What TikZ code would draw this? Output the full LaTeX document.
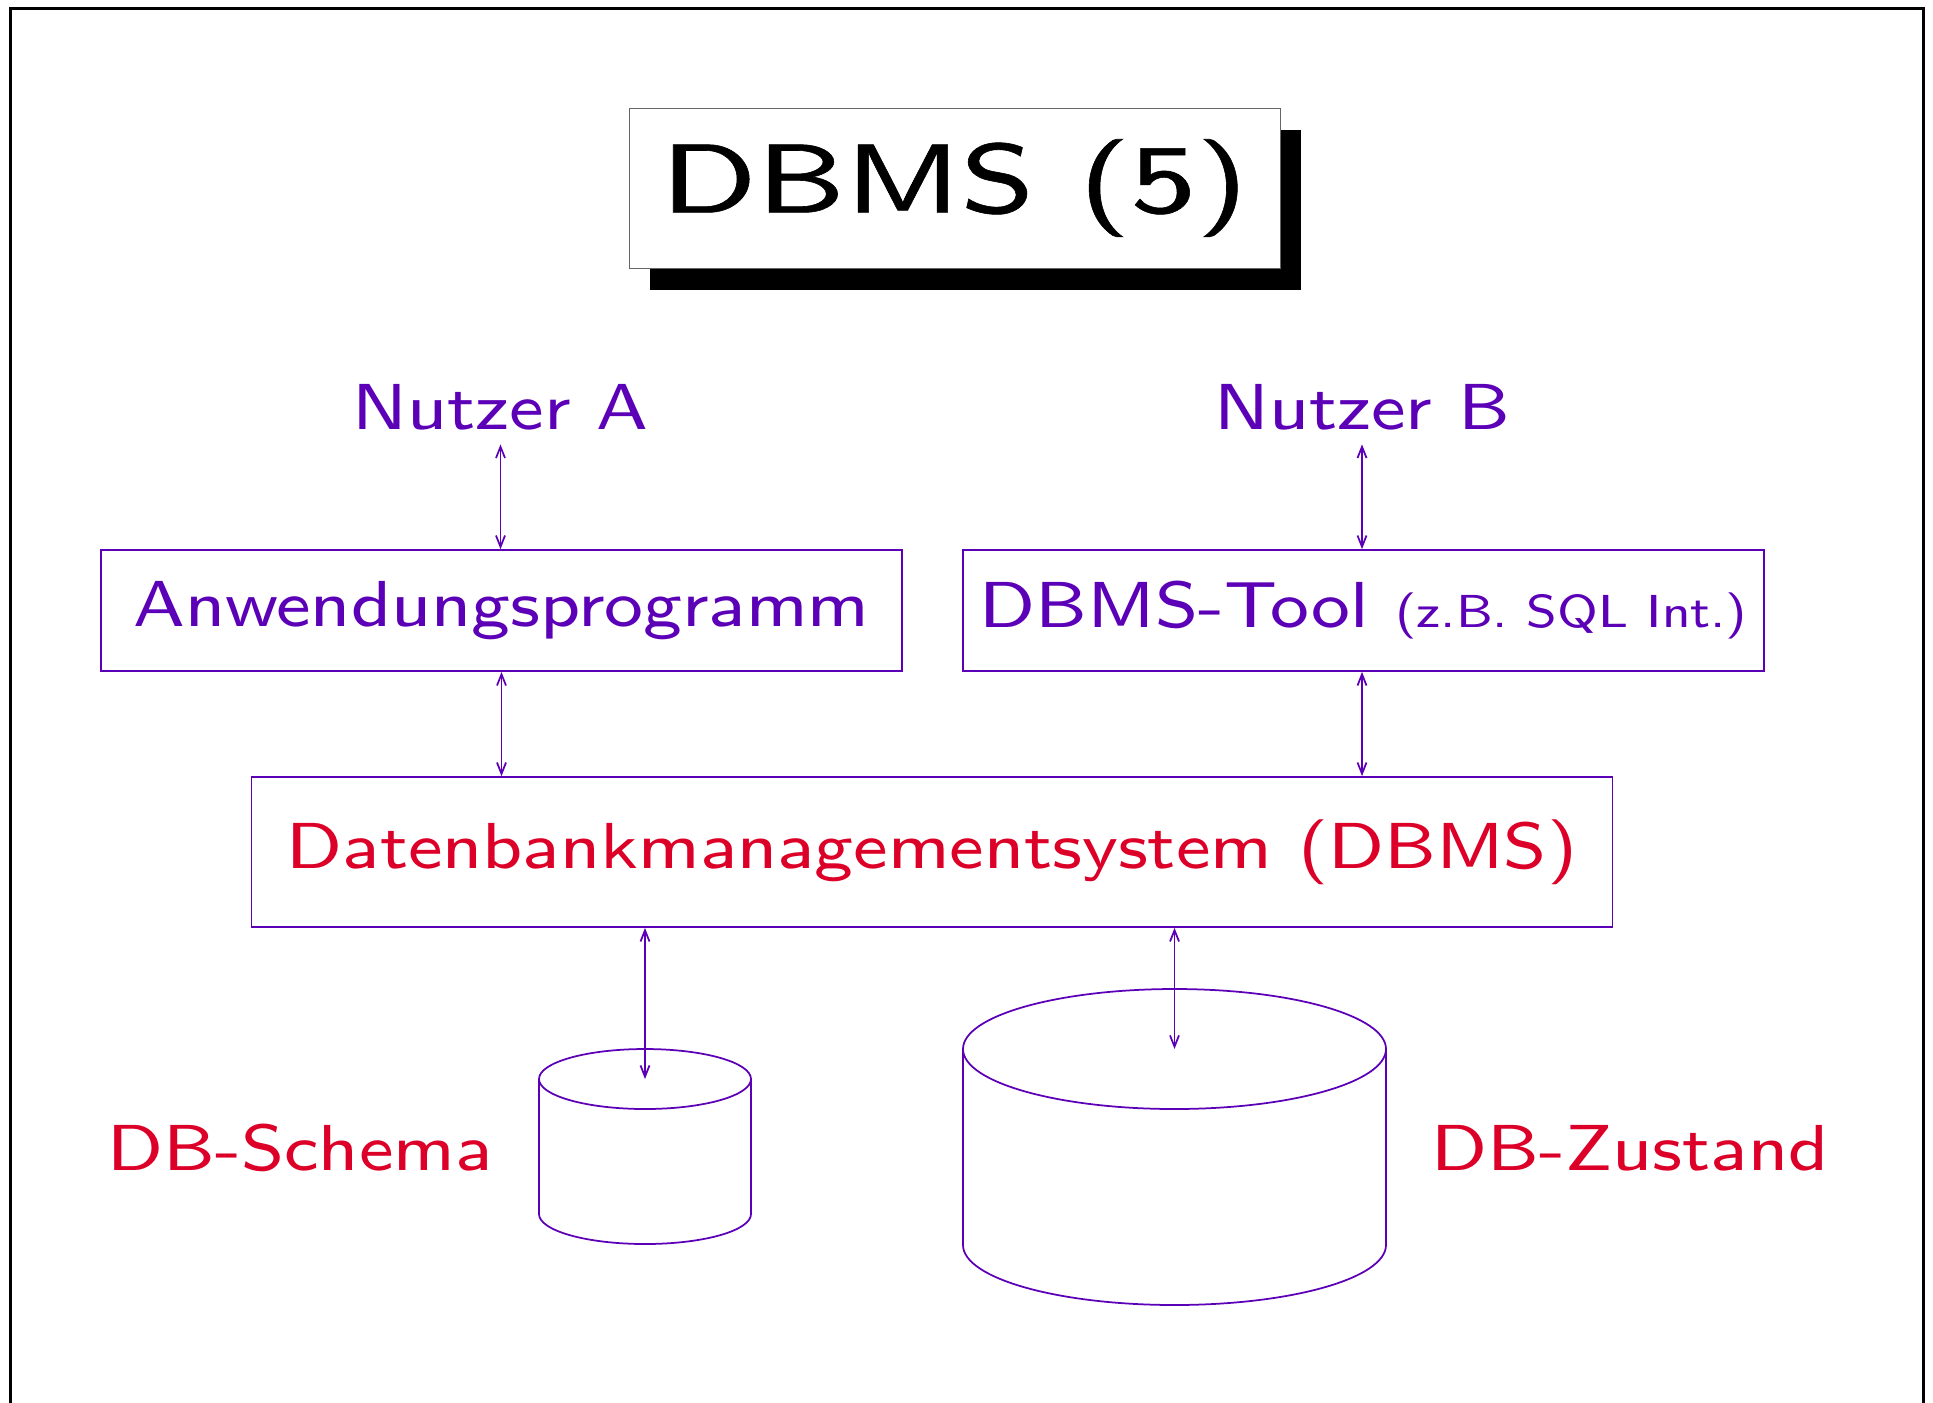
\documentclass[tikz,border=0pt]{standalone}
\usepackage{fontspec}
\setsansfont{lmsans8-regular.otf}[FakeStretch=1.125]
\newfontfamily\titelschrift{lmsans8-regular.otf}[FakeStretch=1.28, FakeBold=0.6]
\usetikzlibrary{arrows.meta, shadows}
\definecolor{nutzer}{RGB}{92,0,184}
\definecolor{dbrot}{RGB}{220,0,40}

\tikzset{
  schrift/.style={font=\sffamily\fontsize{26}{31}\selectfont},
  kasten/.style={draw=nutzer, line width=0.7pt, text=nutzer, schrift, minimum height=48.4pt, inner sep=0pt},
  person/.style={text=nutzer, schrift, inner sep=0pt},
  rot/.style={text=dbrot, schrift, inner sep=0pt},
  zylinder/.style={draw=nutzer, line width=0.7pt},
  pfeil/.style={nutzer, line width=0.7pt, {Straight Barb[length=4.5pt,width=3.6pt]}-{Straight Barb[length=4.5pt,width=3.6pt]}},
}

\begin{document}
\begin{tikzpicture}[x=0.4pt,y=-0.4pt]
        \useasboundingbox (0,0) rectangle (1933,1402);
        \clip (0,0) rectangle (1933,1402);
        % Rahmen der Folie
        \draw[line width=1.2pt] (10,1420) -- (10,8) -- (1923,8) -- (1923,1420);

        \node[draw=black!60, line width=0.4pt, fill=white, minimum width=260.4pt, minimum height=64pt,
              font=\titelschrift\fontsize{39}{47}\selectfont,
              drop shadow={shadow xshift=8.4pt, shadow yshift=-8.8pt, fill=black, opacity=1}]
              (titel) at (954.5,188) {DBMS (5)};

        \node[person] (na) at (500.5,407) {Nutzer A};
        \node[person] (nb) at (1362,407) {Nutzer B};

        \node[kasten, minimum width=320.4pt] (anw) at (501.5,610.5) {Anwendungsprogramm};
        \node[kasten, minimum width=320.4pt] (tool) at (1363.5,610.5) {DBMS-Tool {\fontsize{18.5}{22}\selectfont(z.B. SQL Int.)}};
        \node[kasten, text=dbrot, minimum width=544.4pt, minimum height=60pt] (dbms) at (932,852) {Datenbankmanagementsystem (DBMS)};

        % Datenbank: Schema und Zustand
        \coordinate (schema) at (645,1079);
        \coordinate (zustand) at (1174.5,1049);
        \draw[zylinder] (schema) ellipse[x radius=106, y radius=30];
        \draw[zylinder] (539,1079) -- (539,1214) arc[start angle=180, end angle=0, x radius=106, y radius=30] -- (751,1079);
        \draw[zylinder] (zustand) ellipse[x radius=211.5, y radius=60];
        \draw[zylinder] (963,1049) -- (963,1245) arc[start angle=180, end angle=0, x radius=211.5, y radius=60] -- (1386,1049);

        \node[rot] (schematext) at (300,1148) {DB-Schema};
        \node[rot] (zustandtext) at (1630,1148) {DB-Zustand};

        \draw[pfeil, shorten <=5.6pt] (na.south) -- (na.south |- anw.north);
        \draw[pfeil, shorten <=5.6pt] (nb.south) -- (nb.south |- tool.north);
        \draw[pfeil] (anw.south) -- (anw.south |- dbms.north);
        \draw[pfeil] (nb.south |- tool.south) -- (nb.south |- dbms.north);
        \draw[pfeil] (dbms.south -| schema) -- (schema);
        \draw[pfeil] (dbms.south -| zustand) -- (zustand);
\end{tikzpicture}
\end{document}
